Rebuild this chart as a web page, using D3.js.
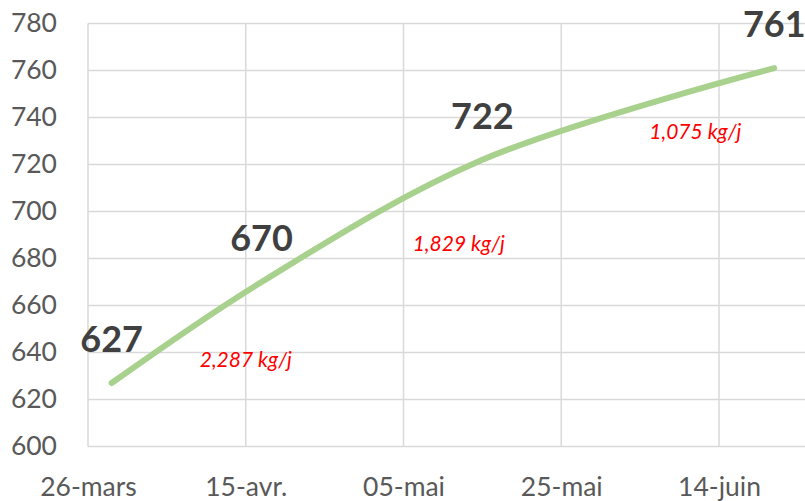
<!DOCTYPE html>
<html>
<head>
<meta charset="utf-8">
<script src="https://cdn.jsdelivr.net/npm/d3@7"></script>
<style>
  body { margin: 0; background: #fff; }
  svg { display: block; }
  text { font-family: Lato, "Open Sans", sans-serif; }
</style>
</head>
<body>
<div id="chart"></div>
<script>
// weight curve (kg) at each weighing date
var dates = ["2019-03-29", "2019-04-17", "2019-05-15", "2019-06-21"];
var weights = [627, 670, 722, 761];
// daily gain between weighings
var gains = ["2,287 kg/j", "1,829 kg/j", "1,075 kg/j"];
var gainDates = ["2019-04-15", "2019-05-12", "2019-06-11"];
var gainValues = [634, 683, 731];
// axes
var xTicks = ["2019-03-26", "2019-04-15", "2019-05-05", "2019-05-25", "2019-06-14"];
var xTickLabels = ["26-mars", "15-avr.", "05-mai", "25-mai", "14-juin"];
var yTicks = [600, 620, 640, 660, 680, 700, 720, 740, 760, 780];

var w = 805, h = 501;
var padL = 88, padT = 23.5, padB = 446.5, padR = 805;

var parse = d3.utcParse("%Y-%m-%d");
var data = dates.map(function(d, i) { return { date: parse(d), value: weights[i] }; });
var tickDates = xTicks.map(parse);

var xScale = d3.scaleUtc()
  .domain([tickDates[0], tickDates[tickDates.length - 1]])
  .range([padL, 719]);
var yScale = d3.scaleLinear()
  .domain([600, 780])
  .range([padB, padT]);

var svg = d3.select("#chart").append("svg")
  .attr("width", w)
  .attr("height", h);

// grid
svg.append("g").selectAll("line")
  .data(yTicks)
  .join("line")
  .attr("x1", padL).attr("x2", padR)
  .attr("y1", function(d) { return yScale(d); })
  .attr("y2", function(d) { return yScale(d); })
  .attr("stroke", "#d9d9d9")
  .attr("stroke-width", 1.5);

svg.append("g").selectAll("line")
  .data(tickDates)
  .join("line")
  .attr("x1", function(d) { return xScale(d); })
  .attr("x2", function(d) { return xScale(d); })
  .attr("y1", padT).attr("y2", padB)
  .attr("stroke", "#d9d9d9")
  .attr("stroke-width", 1.5);

// y axis labels
var yAxis = d3.axisLeft(yScale).tickValues(yTicks).tickSize(0).tickPadding(31);
var gy = svg.append("g")
  .attr("transform", "translate(" + padL + ",0)")
  .call(yAxis);
gy.select(".domain").remove();
gy.selectAll("text")
  .attr("font-family", "Lato, 'Open Sans', sans-serif")
  .attr("font-size", 26.5)
  .attr("fill", "#595959");

// x axis labels
var xAxis = d3.axisBottom(xScale).tickValues(tickDates).tickSize(0).tickPadding(31)
  .tickFormat(function(d, i) { return xTickLabels[i]; });
var gx = svg.append("g")
  .attr("transform", "translate(0," + padB + ")")
  .call(xAxis);
gx.select(".domain").remove();
gx.selectAll("text")
  .attr("font-family", "Lato, 'Open Sans', sans-serif")
  .attr("font-size", 26.5)
  .attr("fill", "#595959");

// line
var line = d3.line()
  .x(function(d) { return xScale(d.date); })
  .y(function(d) { return yScale(d.value); })
  .curve(d3.curveCatmullRom.alpha(0.5));

svg.append("path")
  .datum(data)
  .attr("fill", "none")
  .attr("stroke", "#a9d18e")
  .attr("stroke-width", 6)
  .attr("stroke-linecap", "round")
  .attr("d", line);

// value labels
svg.append("g").selectAll("text")
  .data(data)
  .join("text")
  .attr("x", function(d) { return xScale(d.date); })
  .attr("y", function(d) { return yScale(d.value) - 31; })
  .attr("text-anchor", "middle")
  .attr("font-size", 36)
  .attr("font-weight", "bold")
  .attr("fill", "#404040")
  .text(function(d) { return d.value; });

// gain labels
svg.append("g").selectAll("text")
  .data(gains)
  .join("text")
  .attr("x", function(d, i) { return xScale(parse(gainDates[i])); })
  .attr("y", function(d, i) { return yScale(gainValues[i]); })
  .attr("text-anchor", "middle")
  .attr("font-size", 21)
  .attr("font-style", "italic")
  .attr("fill", "#ff0000")
  .text(function(d) { return d; });
</script>
</body>
</html>
